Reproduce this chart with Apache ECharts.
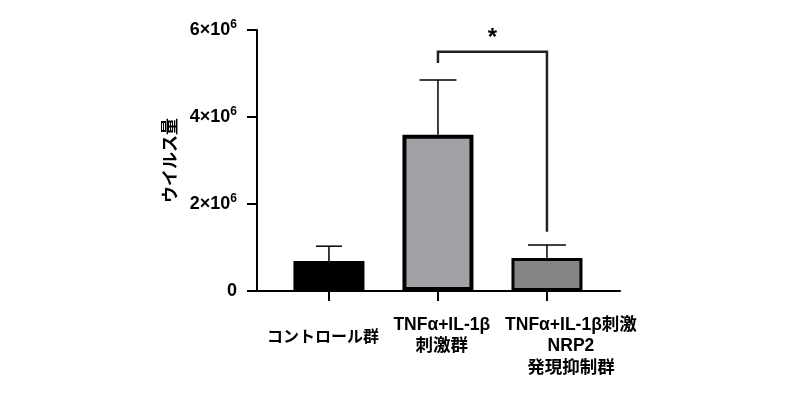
<!DOCTYPE html>
<html><head><meta charset="utf-8">
<script src="https://cdn.jsdelivr.net/npm/echarts@6/dist/echarts.min.js"></script>
<style>html,body{margin:0;padding:0;background:#fff}#c{width:801px;height:397px}</style>
</head><body><div id="c"></div>
<script>
const categories = ['コントロール群', 'TNFα+IL-1β\n刺激群', 'TNFα+IL-1β刺激\nNRP2\n発現抑制群'];
const means = [0.69e6, 3.59e6, 0.76e6];
const errUpper = [1.03e6, 4.85e6, 1.06e6];
const yTicks = [0, 2e6, 4e6, 6e6];
const sigPair = [1, 2];
const sigLevels = [5.5e6, 5.24e6, 1.36e6]; // bracket top, left leg end, right leg end
const sigStarY = 5.8e6;
const sigLabel = '*';

const barColors = ['#000000', '#a2a2a6', '#858585'];
const capW = [26, 37, 38];
const labelShift = [-0.055, 0.035, 0.22]; // label offsets from tick (axis units)
const FONT = '"Liberation Sans","Noto Sans CJK JP",sans-serif';

function richLabel(s, first) {
  return s.split('\n').map(line =>
    line.replace(/([A-Za-z0-9α-ω+\-]+)|([^A-Za-z0-9α-ω+\-]+)/g, (m, lat, cjk) =>
      lat ? '{' + (first ? 'L' : 'l') + '|' + lat + '}' : '{' + (first ? 'C' : 'c') + '|' + cjk + '}')
  ).join('\n');
}

const lblBase = {fontFamily: FONT, fontWeight: 'bold', color: '#000', lineHeight: 21.5};

const chart = echarts.init(document.getElementById('c'));
chart.setOption({
  animation: false,
  grid: {left: 257, right: 181, top: 30, bottom: 106},
  xAxis: {
    type: 'value', min: -0.66, max: 2.67,
    splitLine: {show: false},
    axisLine: {show: true, onZero: false, lineStyle: {color: '#000', width: 2}},
    axisTick: {show: true, customValues: categories.map((c, i) => i), length: 10, lineStyle: {color: '#000', width: 2}},
    axisLabel: {
      customValues: categories.map((c, i) => i + labelShift[i]), margin: 23,
      showMinLabel: true, showMaxLabel: true, hideOverlap: false,
      color: '#000', fontFamily: FONT, fontWeight: 'bold', fontSize: 16, lineHeight: 21.5,
      formatter: v => richLabel(categories[Math.round(v)], Math.round(v) === 0),
      rich: {
        l: Object.assign({fontSize: 17.5}, lblBase),
        c: Object.assign({fontSize: 17.5}, lblBase),
        L: Object.assign({fontSize: 17.5, padding: [26, 0, 0, 0]}, lblBase),
        C: Object.assign({fontSize: 16, padding: [26, 0, 0, 0]}, lblBase)
      }
    }
  },
  yAxis: {
    type: 'value', min: 0, max: 6e6, interval: 2e6,
    name: 'ウイルス量', nameLocation: 'middle', nameGap: 77, nameRotate: 90,
    nameTextStyle: {color: '#000', fontFamily: FONT, fontWeight: 'bold', fontSize: 17},
    splitLine: {show: false},
    axisLine: {show: true, onZero: false, lineStyle: {color: '#000', width: 2}},
    axisTick: {show: true, length: 10, lineStyle: {color: '#000', width: 2}},
    axisLabel: {
      margin: 20, color: '#000', fontFamily: FONT, fontWeight: 'bold', fontSize: 18,
      formatter: v => {
        if (!yTicks.includes(v)) return '';
        return v === 0 ? '0' : (v / 1e6) + '×10{s|6}';
      },
      rich: {s: {fontSize: 12, fontWeight: 'bold', fontFamily: FONT, color: '#000', padding: [0, 0, 10, 0]}}
    }
  },
  series: [
    {
      type: 'bar', barWidth: 71,
      data: means.map((m, i) => ({
        value: [i, m],
        itemStyle: {color: barColors[i], borderColor: '#000', borderWidth: i === 0 ? 0 : (i === 1 ? 4 : 3)}
      })),
      z: 2
    },
    {
      type: 'custom', z: 1,
      data: means.map((m, i) => [i, m, errUpper[i]]),
      renderItem: (params, api) => {
        const i = api.value(0);
        const p0 = api.coord([i, api.value(1)]);
        const p1 = api.coord([i, api.value(2)]);
        const w = capW[params.dataIndex] / 2;
        const st = {stroke: '#000', lineWidth: 1.5};
        return {type: 'group', children: [
          {type: 'line', shape: {x1: p0[0], y1: p0[1], x2: p1[0], y2: p1[1]}, style: st},
          {type: 'line', shape: {x1: p1[0] - w, y1: p1[1], x2: p1[0] + w, y2: p1[1]}, style: st}
        ]};
      }
    },
    {
      type: 'custom', z: 3,
      data: [[sigPair[0], sigPair[1], sigLevels[0], sigLevels[1], sigLevels[2], sigStarY]],
      renderItem: (params, api) => {
        const a = api.coord([api.value(0), api.value(2)]);
        const b = api.coord([api.value(1), api.value(2)]);
        const la = api.coord([api.value(0), api.value(3)]);
        const lb = api.coord([api.value(1), api.value(4)]);
        const s = api.coord([(api.value(0) + api.value(1)) / 2, api.value(5)]);
        return {type: 'group', children: [
          {type: 'polyline', shape: {points: [[la[0], la[1]], [a[0], a[1]], [b[0], b[1]], [lb[0], lb[1]]]},
           style: {stroke: '#222', lineWidth: 2.5, fill: null}},
          {type: 'text', style: {text: sigLabel, x: s[0], y: s[1], align: 'center', verticalAlign: 'middle',
           fill: '#000', font: 'bold 24px ' + FONT}}
        ]};
      }
    }
  ]
});
</script></body></html>
